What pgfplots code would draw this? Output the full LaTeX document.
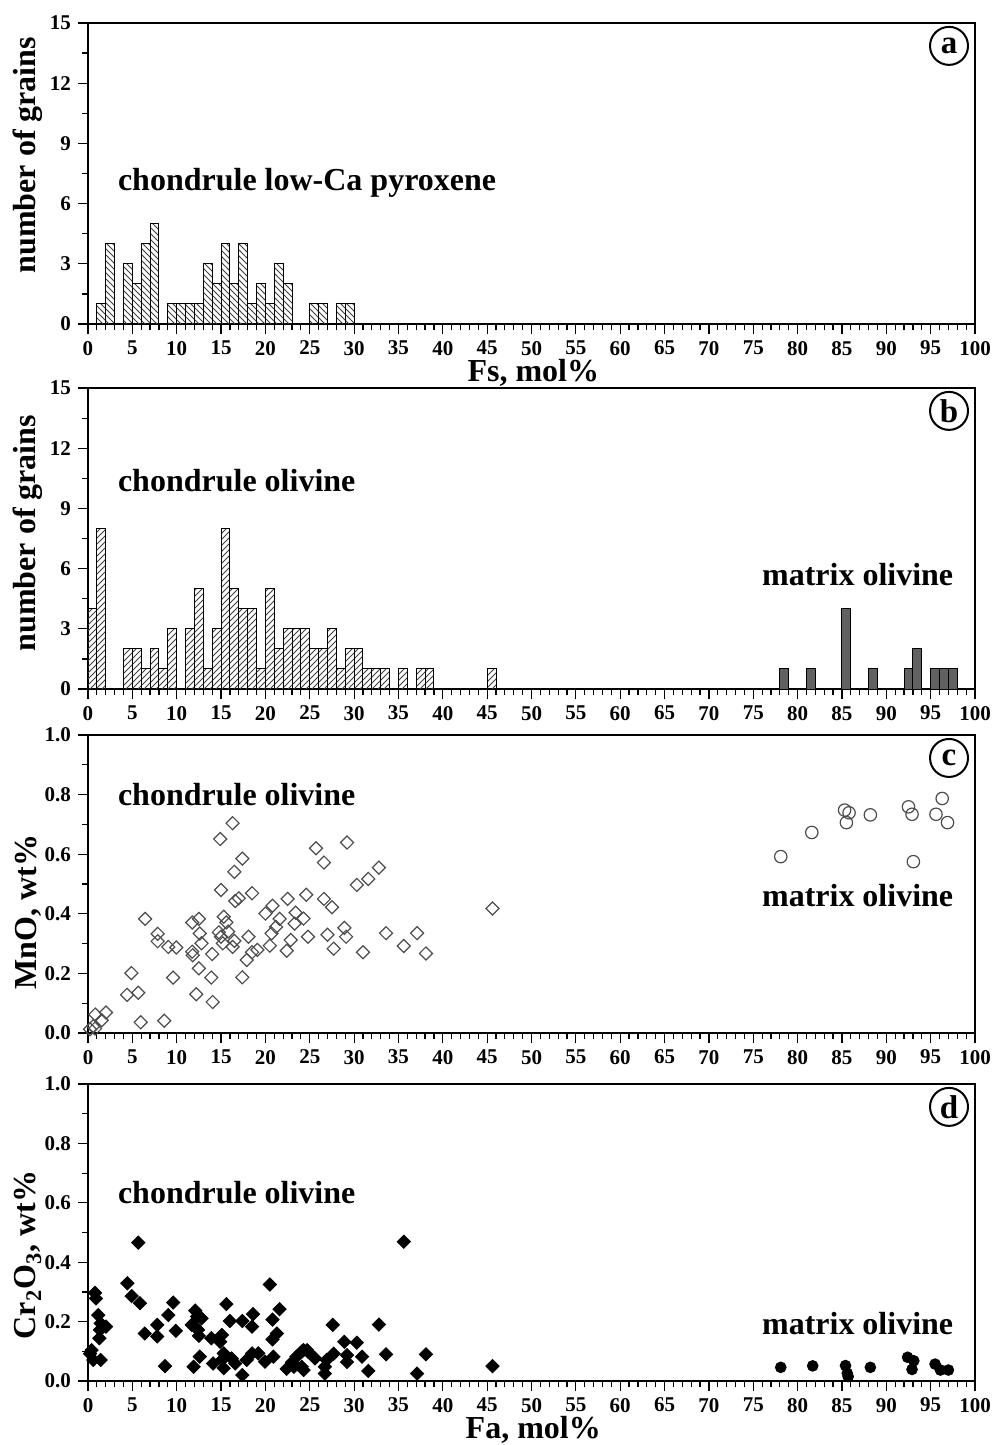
\documentclass[border=0pt]{standalone}
\usepackage{pgfplots}
\pgfplotsset{compat=1.18}
\usetikzlibrary{patterns}
\usepackage{fontspec}
\setmainfont{Liberation Serif}
\newcommand{\annfont}{\fontsize{16}{18}\selectfont\bfseries}
\tikzset{circ/.style={circle, draw, line width=1pt, minimum size=19pt, inner sep=0pt, font=\fontsize{16.5}{18}\selectfont\bfseries}}
\pgfplotsset{
  panel/.style={
    scale only axis, width=443.5pt, xmin=0, xmax=100,
    anchor=north west,
    axis line style={line width=0.75pt},
    xtick={0,5,...,100}, minor x tick num=4,
    tick align=outside, xtick pos=bottom, ytick pos=left,
    major tick length=5pt, minor tick length=3pt,
    every tick/.style={black, line width=0.6pt},
    ticklabel style={font=\fontsize{10.5}{12}\selectfont\bfseries},
    /pgf/number format/assume math mode=true,
    label style={font=\fontsize{16}{18}\selectfont\bfseries},
    clip=false,
  },
  histy/.style={ymin=0, ymax=15, ytick={0,3,...,15}, minor y tick num=1},
  scaty/.style={ymin=0, ymax=1, ytick={0,0.2,...,1.0}, minor y tick num=1,
    yticklabel style={/pgf/number format/.cd, fixed, fixed zerofill, precision=1}},
}
\begin{document}
\begin{tikzpicture}
\useasboundingbox (0,0) rectangle (496pt,-722.5pt);
% ---------------- panel a
\begin{axis}[panel, histy, at={(44pt,-11.5pt)}, height=150.5pt,
  ylabel={number of grains}, ylabel style={at={(axis description cs:-0.0676,0.561)}, anchor=center},
  xlabel={Fs, mol\%}, xlabel style={at={(axis description cs:0.502,-0.163)}, anchor=center}]
\addplot[ybar, bar width=1, draw=black, line width=0.5pt, pattern=north west lines, pattern color=black!75] coordinates {
(1.5,1)(2.5,4)(4.5,3)(5.5,2)(6.5,4)(7.5,5)(9.5,1)(10.5,1)(11.5,1)(12.5,1)(13.5,3)(14.5,2)
(15.5,4)(16.5,2)(17.5,4)(18.5,1)(19.5,2)(20.5,1)(21.5,3)(22.5,2)(25.5,1)(26.5,1)(28.5,1)(29.5,1)};
\node[anchor=west, font=\annfont] at (axis description cs:0.0259,0.468) {chondrule low-Ca pyroxene};
\node[circ] at (axis description cs:0.9707,0.924) {a};
\end{axis}
% ---------------- panel b
\begin{axis}[panel, histy, at={(44pt,-194pt)}, height=150.5pt,
  ylabel={number of grains}, ylabel style={at={(axis description cs:-0.0676,0.518)}, anchor=center}]
\addplot[ybar, bar width=1, draw=black, line width=0.5pt, pattern=north east lines, pattern color=black!75] coordinates {
(0.5,4)(1.5,8)(4.5,2)(5.5,2)(6.5,1)(7.5,2)(8.5,1)(9.5,3)(11.5,3)(12.5,5)(13.5,1)(14.5,3)
(15.5,8)(16.5,5)(17.5,4)(18.5,4)(19.5,1)(20.5,5)(21.5,2)(22.5,3)(23.5,3)(24.5,3)(25.5,2)(26.5,2)
(27.5,3)(28.5,1)(29.5,2)(30.5,2)(31.5,1)(32.5,1)(33.5,1)(35.5,1)(37.5,1)(38.5,1)(45.5,1)};
\addplot[ybar, bar width=1, draw=black, line width=0.5pt, fill=black!62] coordinates {
(78.5,1)(81.5,1)(85.5,4)(88.5,1)(92.5,1)(93.5,2)(95.5,1)(96.5,1)(97.5,1)};
\node[anchor=west, font=\annfont] at (axis description cs:0.0259,0.694) {chondrule olivine};
\node[anchor=west, font=\annfont] at (axis description cs:0.752,0.379) {matrix olivine};
\node[circ] at (axis description cs:0.9707,0.924) {b};
\end{axis}
% ---------------- panel c
\begin{axis}[panel, scaty, at={(44pt,-367.5pt)}, height=149pt,
  ylabel={MnO, wt\%}, ylabel style={at={(axis description cs:-0.0676,0.406)}, anchor=center}]
\addplot[only marks, mark=square, mark size=2.3pt, mark options={rotate=45, draw=black!70, line width=0.6pt, fill=none}] coordinates {
(16.3,0.704)(14.9,0.651)(17.4,0.585)(16.5,0.541)(15.0,0.480)(17.0,0.452)(16.6,0.443)(18.5,0.469)
(6.43,0.383)(11.75,0.371)(12.5,0.383)(12.6,0.334)(12.8,0.301)(7.85,0.333)(7.85,0.308)(9.05,0.289)
(9.95,0.287)(11.75,0.273)(11.8,0.261)(12.5,0.217)(14.0,0.265)(13.9,0.186)(9.6,0.186)(4.9,0.201)
(4.4,0.128)(5.67,0.135)(12.2,0.130)(14.05,0.104)(5.94,0.036)(8.6,0.041)(2.03,0.069)(0.83,0.062)
(1.55,0.043)(0.6,0.023)(0.23,0.0125)(0.8,0.015)(15.3,0.390)(15.6,0.371)(14.75,0.338)(15.0,0.323)
(15.8,0.340)(15.2,0.301)(16.5,0.309)(16.3,0.289)(18.1,0.323)(17.9,0.245)(18.5,0.271)(19.1,0.279)
(17.4,0.187)(20.0,0.401)(20.8,0.427)(21.6,0.383)(21.2,0.356)(20.7,0.334)(20.5,0.293)(22.4,0.276)
(22.85,0.312)(22.5,0.450)(23.4,0.404)(23.3,0.367)(24.3,0.384)(24.6,0.464)(24.8,0.323)(25.7,0.620)
(29.2,0.639)(26.6,0.572)(32.8,0.555)(31.6,0.517)(30.3,0.497)(26.6,0.450)(27.5,0.422)(27.0,0.330)
(28.9,0.353)(29.1,0.323)(27.7,0.283)(31.0,0.271)(33.6,0.335)(37.1,0.335)(35.6,0.292)(38.1,0.267)
(45.6,0.418)};
\addplot[only marks, mark=o, mark size=3.1pt, mark options={draw=black!70, line width=0.6pt}] coordinates {
(78.1,0.592)(81.6,0.673)(85.3,0.748)(85.8,0.739)(85.5,0.706)(88.2,0.732)(92.5,0.759)(92.9,0.734)
(93.05,0.575)(95.6,0.734)(96.3,0.787)(96.9,0.706)};
\node[anchor=west, font=\annfont] at (axis description cs:0.0259,0.799) {chondrule olivine};
\node[anchor=west, font=\annfont] at (axis description cs:0.752,0.46) {matrix olivine};
\node[circ] at (axis description cs:0.9707,0.923) {c};
\end{axis}
% ---------------- panel d
\begin{axis}[panel, scaty, at={(44pt,-542pt)}, height=148.5pt,
  ylabel={Cr\textsubscript{2}O\textsubscript{3}, wt\%}, ylabel style={at={(axis description cs:-0.0676,0.424)}, anchor=center},
  xlabel={Fa, mol\%}, xlabel style={at={(axis description cs:0.502,-0.165)}, anchor=center}]
\addplot[only marks, mark=square*, mark size=2.35pt, mark options={rotate=45, draw=black, fill=black}] coordinates {
(5.67,0.466)(4.44,0.329)(4.92,0.286)(5.86,0.262)(0.79,0.297)(0.9,0.278)(1.16,0.222)(1.43,0.194)
(2.03,0.183)(1.35,0.172)(1.28,0.144)(0.41,0.104)(0.6,0.071)(1.43,0.071)(0.23,0.092)(6.4,0.160)
(7.8,0.189)(7.8,0.150)(9.06,0.222)(9.6,0.264)(9.9,0.169)(8.68,0.050)(12.1,0.237)(12.3,0.217)
(12.8,0.211)(11.7,0.189)(12.4,0.172)(12.5,0.152)(11.9,0.048)(12.6,0.082)(13.9,0.144)(14.1,0.059)
(15.1,0.155)(14.9,0.132)(15.6,0.259)(16.0,0.202)(15.3,0.093)(15.1,0.071)(15.3,0.043)(16.2,0.076)
(16.6,0.059)(17.4,0.202)(17.4,0.020)(17.9,0.071)(18.6,0.225)(18.5,0.183)(18.5,0.093)(19.2,0.093)
(19.96,0.065)(20.5,0.325)(20.8,0.207)(20.8,0.140)(21.3,0.160)(21.6,0.242)(20.9,0.082)(22.4,0.041)
(23.0,0.063)(23.5,0.082)(24.1,0.099)(24.1,0.048)(24.7,0.104)(23.2,0.048)
(35.6,0.469)(27.6,0.189)(32.8,0.190)(28.9,0.132)(30.3,0.129)(29.2,0.087)(29.2,0.064)(27.7,0.092)
(26.7,0.048)(26.7,0.025)(30.9,0.082)(31.6,0.034)(33.6,0.090)(37.1,0.025)(38.1,0.090)(45.6,0.050)
(24.3,0.104)(24.8,0.099)(25.6,0.076)(24.3,0.037)(26.9,0.071)};
\addplot[only marks, mark=*, mark size=2.7pt, mark options={draw=black, fill=black}] coordinates {
(78.1,0.046)(81.7,0.051)(85.4,0.052)(85.6,0.026)(85.7,0.015)(88.2,0.046)(92.4,0.080)(93.1,0.068)
(92.9,0.039)(95.5,0.057)(96.1,0.037)(97.0,0.037)};
\node[anchor=west, font=\annfont] at (axis description cs:0.0259,0.636) {chondrule olivine};
\node[anchor=west, font=\annfont] at (axis description cs:0.752,0.195) {matrix olivine};
\node[circ] at (axis description cs:0.9707,0.923) {d};
\end{axis}
\end{tikzpicture}
\end{document}
